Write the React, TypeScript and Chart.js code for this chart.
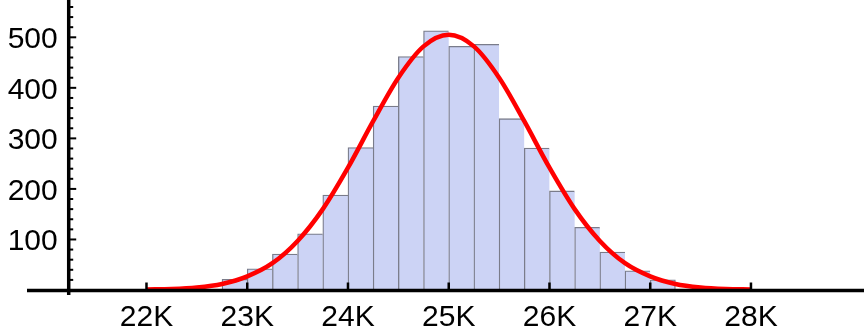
import { useEffect, useRef } from "react";
import { Chart, registerables } from "chart.js";

Chart.register(...registerables);

// Histogram bins (left edge of each 250-wide bin) and their counts
const binStarts = [
  22750, 23000, 23250, 23500, 23750, 24000, 24250, 24500, 24750,
  25000, 25250, 25500, 25750, 26000, 26250, 26500, 26750, 27000,
];
const binCounts = [
  21, 42, 71, 111, 188, 282, 364, 462, 513,
  482, 486, 339, 281, 196, 124, 75, 38, 20,
];
const binWidth = 250;

// Fitted density curve, sampled every 250
const curveX = [
  22000, 22250, 22500, 22750, 23000, 23250, 23500, 23750, 24000, 24250, 24500, 24750,
  25000, 25250, 25500, 25750, 26000, 26250, 26500, 26750, 27000, 27250, 27500, 27750, 28000,
];
const curveY = [
  1, 2, 5, 12, 27, 53, 97, 160, 242, 334, 420, 482,
  505, 482, 420, 334, 242, 160, 97, 53, 27, 12, 5, 2, 1,
];

// Axis ticks
const xTickValues = [22000, 23000, 24000, 25000, 26000, 27000, 28000];
const xTickLabels = ["22K", "23K", "24K", "25K", "26K", "27K", "28K"];
const yTickValues = [100, 200, 300, 400, 500];
const yTickLabels = ["100", "200", "300", "400", "500"];
const yMinorStep = 20;

// Plot range and where the vertical axis crosses
const X_MIN = 20814;
const X_MAX = 29122;
const Y_MAX = 573.8;
const AXIS_ORIGIN_X = 21228;

const FONT_SIZE = 30;
const FONT = `${FONT_SIZE}px "Liberation Sans", Arial, Helvetica, sans-serif`;

const axesPlugin = {
  id: "crossAxes",
  afterDatasetsDraw(chart: any) {
    const { ctx, chartArea } = chart;
    const xs = chart.scales.x;
    const ys = chart.scales.y;
    const y0 = ys.getPixelForValue(0) + 0.5;
    const ax = xs.getPixelForValue(AXIS_ORIGIN_X);

    ctx.save();
    ctx.strokeStyle = "#000";
    ctx.lineCap = "butt";

    // axis lines
    ctx.lineWidth = 3.5;
    ctx.beginPath();
    ctx.moveTo(chartArea.left, y0);
    ctx.lineTo(chart.width, y0);
    ctx.stroke();
    ctx.beginPath();
    ctx.moveTo(ax, 0);
    ctx.lineTo(ax, y0 + 4.5);
    ctx.stroke();

    // vertical axis ticks, pointing into the plot
    ctx.lineWidth = 2;
    for (let v = yMinorStep; v <= ys.max; v += yMinorStep) {
      const py = ys.getPixelForValue(v);
      const major = v % 100 === 0;
      ctx.beginPath();
      ctx.moveTo(ax, py);
      ctx.lineTo(ax + (major ? 7.5 : 4.5), py);
      ctx.stroke();
    }

    // horizontal axis ticks, pointing up
    ctx.lineWidth = 2.5;
    xTickValues.forEach((v) => {
      const px = xs.getPixelForValue(v);
      ctx.beginPath();
      ctx.moveTo(px, y0);
      ctx.lineTo(px, y0 - 8);
      ctx.stroke();
    });

    // tick labels
    ctx.fillStyle = "#000";
    ctx.font = FONT;
    ctx.textBaseline = "alphabetic";
    ctx.textAlign = "right";
    yTickValues.forEach((v, i) => {
      ctx.fillText(yTickLabels[i], ax - 11, ys.getPixelForValue(v) + 0.36 * FONT_SIZE);
    });
    ctx.textAlign = "center";
    xTickValues.forEach((v, i) => {
      ctx.fillText(xTickLabels[i], xs.getPixelForValue(v), y0 + 35.5);
    });
    ctx.restore();
  },
};

export default function App() {
  const canvasRef = useRef<HTMLCanvasElement | null>(null);

  useEffect(() => {
    document.body.style.margin = "0";
    const canvas = canvasRef.current;
    if (!canvas) return;

    const lastBin = binCounts.length - 1;
    const chart = new Chart(canvas, {
      type: "bar",
      data: {
        datasets: [
          {
            type: "line",
            data: curveX.map((x, i) => ({ x, y: curveY[i] })),
            borderColor: "#ff0000",
            borderWidth: 4.5,
            pointRadius: 0,
            cubicInterpolationMode: "monotone",
            fill: false,
            order: 0,
          } as any,
          {
            type: "bar",
            data: binStarts.map((s, i) => ({ x: s + binWidth / 2, y: binCounts[i] })),
            backgroundColor: "rgb(204,211,245)",
            borderColor: "rgb(122,124,138)",
            borderWidth: (c: any) => ({
              top: 1.3,
              left: 1.3,
              right: c.dataIndex === lastBin ? 1.3 : 0,
              bottom: 0,
            }),
            borderSkipped: false,
            barPercentage: 1,
            categoryPercentage: 1,
            order: 1,
          } as any,
        ],
      },
      options: {
        responsive: false,
        animation: false,
        devicePixelRatio: 1,
        layout: {
          padding: { left: 27, right: 0, top: 0, bottom: 44 },
          autoPadding: false,
        },
        plugins: {
          legend: { display: false },
          tooltip: { enabled: false },
        },
        scales: {
          x: {
            type: "linear",
            min: X_MIN,
            max: X_MAX,
            offset: false,
            display: false,
          },
          y: {
            type: "linear",
            min: 0,
            max: Y_MAX,
            display: false,
          },
        },
      } as any,
      plugins: [axesPlugin],
    });

    return () => chart.destroy();
  }, []);

  return (
    <div style={{ width: 864, height: 334 }}>
      <canvas
        ref={canvasRef}
        width={864}
        height={334}
        style={{ display: "block", width: 864, height: 334 }}
      />
    </div>
  );
}
